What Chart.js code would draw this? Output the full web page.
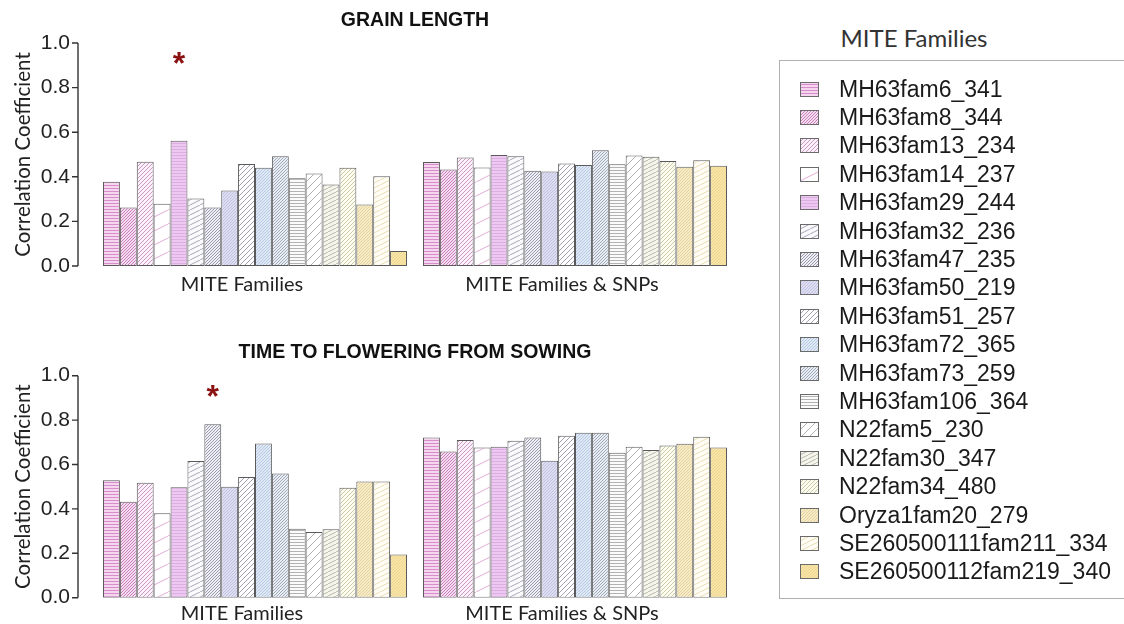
<!DOCTYPE html>
<html>
<head>
<meta charset="utf-8">
<script src="https://cdn.jsdelivr.net/npm/chart.js@4.4.1/dist/chart.umd.min.js"></script>
<style>
  html, body { margin:0; padding:0; background:#fff; }
  body { width:1124px; height:624px; position:relative; overflow:hidden; }
  canvas.chart { position:absolute; left:0; }
  #legendTitle { position:absolute; left:779px; width:270px; top:24px; text-align:center;
    font-family:Lato, "Open Sans", sans-serif; font-size:24px; color:#333; line-height:28px; }
  #legend { position:absolute; left:779px; top:60px; width:360px; height:539px;
    border:1px solid #b0b0b0; box-sizing:border-box; }
  .item { position:absolute; left:20px; height:28px; display:flex; align-items:center; }
  .item canvas { width:19px; height:15px; margin-right:20px; }
  .item span { font-family:"Liberation Sans", Arial, sans-serif; font-size:23px; color:#1a1a1a; white-space:nowrap; }
</style>
</head>
<body>
<canvas id="c1" class="chart" width="760" height="312" style="top:0px"></canvas>
<canvas id="c2" class="chart" width="760" height="312" style="top:312px"></canvas>
<div id="legendTitle">MITE Families</div>
<div id="legend"></div>
<script>
// ---------- data ----------
const groups = ['MITE Families', 'MITE Families & SNPs'];
const families = ['MH63fam6_341','MH63fam8_344','MH63fam13_234','MH63fam14_237','MH63fam29_244',
  'MH63fam32_236','MH63fam47_235','MH63fam50_219','MH63fam51_257','MH63fam72_365','MH63fam73_259',
  'MH63fam106_364','N22fam5_230','N22fam30_347','N22fam34_480','Oryza1fam20_279',
  'SE260500111fam211_334','SE260500112fam219_340'];
const grainMITE = [0.378,0.262,0.468,0.279,0.562,0.303,0.262,0.339,0.457,0.441,0.492,0.393,0.415,0.366,0.441,0.276,0.403,0.067];
const grainSNP  = [0.466,0.433,0.487,0.442,0.498,0.492,0.427,0.424,0.460,0.453,0.519,0.456,0.496,0.490,0.471,0.445,0.474,0.450];
const flowerMITE = [0.529,0.432,0.518,0.380,0.497,0.616,0.781,0.500,0.544,0.695,0.560,0.311,0.296,0.308,0.495,0.523,0.523,0.195];
const flowerSNP  = [0.722,0.658,0.710,0.677,0.680,0.707,0.722,0.617,0.730,0.743,0.743,0.653,0.680,0.665,0.686,0.694,0.725,0.677];
const yTicks = [0, 0.2, 0.4, 0.6, 0.8, 1.0];
// significant marks: [series index, group index, height of mark]
const grainSig = [[4, 0, 0.93]];
const flowerSig = [[6, 0, 0.93]];

// ---------- styles (fill, line colour, hatch type, spacing) ----------
const styles = [
  ['#f4d6ee','#d98ccc','h',3],
  ['#f5dcf1','#c77fba','d',3],
  ['#fcf0fa','#c99ac0','d',4],
  ['#ffffff','#e4acd6','s',14],
  ['#edc9f1','#dcaee3','h',3],
  ['#fbfbfd','#a6a6b8','s',5],
  ['#efeff6','#9a9aac','d',3],
  ['#dedef3','#c2c2e2','d',3],
  ['#ffffff','#a2a2b2','d',5],
  ['#dfe9f6','#b8c9e2','d',3],
  ['#e9eef5','#a2aaba','d',3],
  ['#fbfbfb','#b2b2b2','h',3],
  ['#ffffff','#b2b2b2','d',8],
  ['#f6f6ef','#b8b8a6','s',4],
  ['#fcfcf1','#cbcba8','d',4],
  ['#f7ecc6','#e2d2a2','d',3],
  ['#fffdf6','#e8dcb2','s',5],
  ['#f8e5a8','#eed48e','d',3]
];

function makePattern(fill, line, type, gap) {
  const c = document.createElement('canvas');
  let W = gap, H = gap;
  if (type === 's') { W = gap * 2; H = gap; }
  if (type === 'h') { W = 4; H = gap; }
  c.width = W; c.height = H;
  const g = c.getContext('2d');
  g.fillStyle = fill; g.fillRect(0, 0, W, H);
  g.strokeStyle = line; g.lineWidth = 1;
  g.beginPath();
  if (type === 'h') {
    g.moveTo(0, H - 0.5); g.lineTo(W, H - 0.5);
  } else {
    for (let k = -1; k <= 1; k++) {
      g.moveTo(k * W, H); g.lineTo(k * W + W, 0);
    }
  }
  g.stroke();
  return g.createPattern(c, 'repeat');
}
const patterns = styles.map(s => makePattern(s[0], s[1], s[2], s[3]));

// ---------- plugins ----------
const axisLinePlugin = {
  id: 'axisLine',
  afterDraw(chart) {
    const ys = chart.scales.y, ctx = chart.ctx;
    const x0 = chart.chartArea.left - 17;
    ctx.save();
    ctx.strokeStyle = '#333'; ctx.lineWidth = 1.4;
    ctx.beginPath();
    ctx.moveTo(x0, ys.getPixelForValue(1)); ctx.lineTo(x0, ys.getPixelForValue(0));
    yTicks.forEach(t => { const p = ys.getPixelForValue(t); ctx.moveTo(x0 - 6, p); ctx.lineTo(x0, p); });
    ctx.stroke();
    ctx.restore();
  }
};
const sigPlugin = {
  id: 'sig',
  afterDatasetsDraw(chart, args, opts) {
    const ctx = chart.ctx, ys = chart.scales.y;
    ctx.save();
    ctx.fillStyle = '#8b1212';
    ctx.font = 'bold 32px "Liberation Sans", Arial, sans-serif';
    ctx.textAlign = 'center'; ctx.textBaseline = 'middle';
    (opts.marks || []).forEach(m => {
      const bar = chart.getDatasetMeta(m[0]).data[m[1]];
      ctx.fillText('*', bar.x, ys.getPixelForValue(m[2]) + 7);
    });
    ctx.restore();
  }
};

function makeChart(id, title, a, b, marks, lay) {
  const datasets = families.map((f, i) => ({
    label: f,
    data: [a[i], b[i]],
    backgroundColor: patterns[i],
    borderColor: '#5a5a5a',
    borderWidth: 1,
    borderSkipped: false,
    categoryPercentage: 0.95,
    barPercentage: 1.0
  }));
  return new Chart(document.getElementById(id), {
    type: 'bar',
    data: { labels: groups, datasets },
    plugins: [axisLinePlugin, sigPlugin],
    options: {
      responsive: false,
      animation: false,
      events: [],
      layout: { padding: { left: 0, right: 25, top: 0, bottom: 0 } },
      plugins: {
        legend: { display: false },
        tooltip: { enabled: false },
        sig: { marks },
        title: {
          display: true, text: title, color: '#111', fullSize: false,
          font: { family: '"Liberation Sans", Arial, sans-serif', size: 19.5, weight: 'bold', lineHeight: 1.2 },
          padding: { top: lay.tTop, bottom: lay.tBot }
        }
      },
      scales: {
        x: {
          grid: { display: false, drawTicks: false },
          border: { display: false },
          ticks: { color: '#222', padding: lay.xPad, labelOffset: -13,
            font: { family: 'Lato, "Open Sans", sans-serif', size: 20 } },
          afterFit(s) { s.height = lay.xH; }
        },
        y: {
          min: 0, max: 1,
          afterBuildTicks(s) { s.ticks = yTicks.map(v => ({ value: v })); },
          grid: { display: false, drawTicks: false },
          border: { display: false },
          ticks: { color: '#222', padding: 25, callback: v => v.toFixed(1),
            font: { family: '"Liberation Sans", Arial, sans-serif', size: 21 } },
          title: { display: true, text: 'Correlation Coefficient', color: '#222',
            padding: { top: 11, bottom: 0 },
            font: { family: 'Lato, "Open Sans", sans-serif', size: 20.5, lineHeight: 1.2 } },
          afterFit(s) { s.width = 95; s.paddingTop = 0; s.paddingBottom = 0; }
        }
      }
    }
  });
}

makeChart('c1', 'GRAIN LENGTH', grainMITE, grainSNP, grainSig,
  { tTop: 9, tBot: 10.6, xPad: 7, xH: 46 });
makeChart('c2', 'TIME TO FLOWERING FROM SOWING', flowerMITE, flowerSNP, flowerSig,
  { tTop: 28.5, tBot: 11.8, xPad: 4, xH: 26.3 });

// ---------- legend ----------
const leg = document.getElementById('legend');
families.forEach((f, i) => {
  const d = document.createElement('div');
  d.className = 'item';
  d.style.top = (14 + i * 28.4) + 'px';
  const c = document.createElement('canvas');
  c.width = 19; c.height = 15;
  const g = c.getContext('2d');
  g.fillStyle = patterns[i]; g.fillRect(0, 0, 19, 15);
  g.strokeStyle = '#6a6a6a'; g.lineWidth = 1; g.strokeRect(0.5, 0.5, 18, 14);
  const s = document.createElement('span');
  s.textContent = f;
  d.appendChild(c); d.appendChild(s);
  leg.appendChild(d);
});
</script>
</body>
</html>
